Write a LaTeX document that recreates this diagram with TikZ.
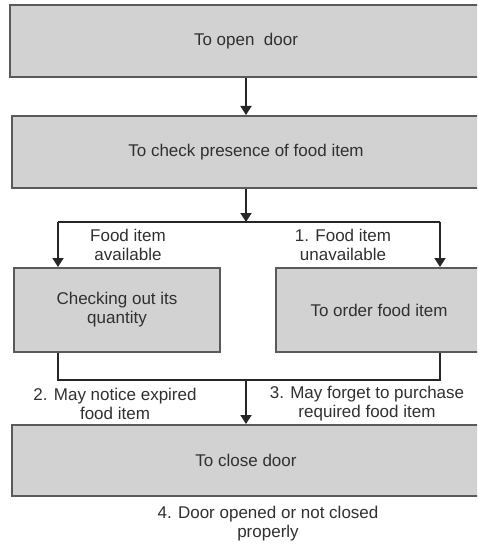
\documentclass[tikz,border=0pt]{standalone}
\usepackage{fontspec}
\setmainfont{Liberation Sans}
\usetikzlibrary{arrows.meta}
\definecolor{boxfill}{HTML}{D2D2D2}
\definecolor{boxline}{HTML}{5A5A5A}
\definecolor{inkgray}{HTML}{303030}
\tikzset{
  stage/.style={draw=boxline, line width=2pt, fill=boxfill, text=inkgray, align=center, inner sep=0pt, font=\fontsize{17}{19}\selectfont},
  note/.style={text=inkgray, align=center, inner sep=0pt, font=\fontsize{17}{19}\selectfont},
  flow/.style={draw=black!85, line width=1.8pt, -{Triangle[width=11pt,length=9pt]}},
  link/.style={draw=black!85, line width=1.8pt}
}

\begin{document}
\begin{tikzpicture}[x=1pt,y=-1pt]
\clip (0,0) rectangle (477,545);

\node[stage, minimum width=472pt, minimum height=72pt] (open) at (246,41) {To open\ \ door};
\node[stage, minimum width=468pt, minimum height=72pt] (check) at (246,152) {To check presence of food item};
\node[stage, minimum width=206pt, minimum height=84pt] (stock) at (117,310) {Checking out its\\quantity};
\node[stage, minimum width=206pt, minimum height=84pt] (order) at (379,310) {To order food item};
\node[stage, minimum width=468pt, minimum height=71pt] (close) at (246,460.5) {To close door};

\coordinate (split) at (246,222);
\coordinate (splitL) at (58,222);
\coordinate (splitR) at (440,222);
\coordinate (join) at (246,380);
\coordinate (joinL) at (58,380);
\coordinate (joinR) at (440,380);

\draw[flow] (open.south) -- (check.north);
\draw[flow] (check.south) -- (split);
\draw[link] (splitL) -- (splitR);
\draw[flow] (splitL) -- (stock.north -| splitL);
\draw[flow] (splitR) -- (order.north -| splitR);
\draw[link] (stock.south -| joinL) -- (joinL) -- (joinR) -- (order.south -| joinR);
\draw[flow] (join) -- (close.north);

\node[note] (avail) at (128,245) {Food item\\available};
\node[note] (unavail) at (343,245) {1. Food item\\unavailable};
\node[note] (expired) at (115,404) {2. May notice expired\\food item};
\node[note] (forget) at (367,404) {3. May forget to purchase\\required food item};
\node[note] (ajar) at (268,524) {4. Door opened or not closed\\properly};
\end{tikzpicture}
\end{document}
